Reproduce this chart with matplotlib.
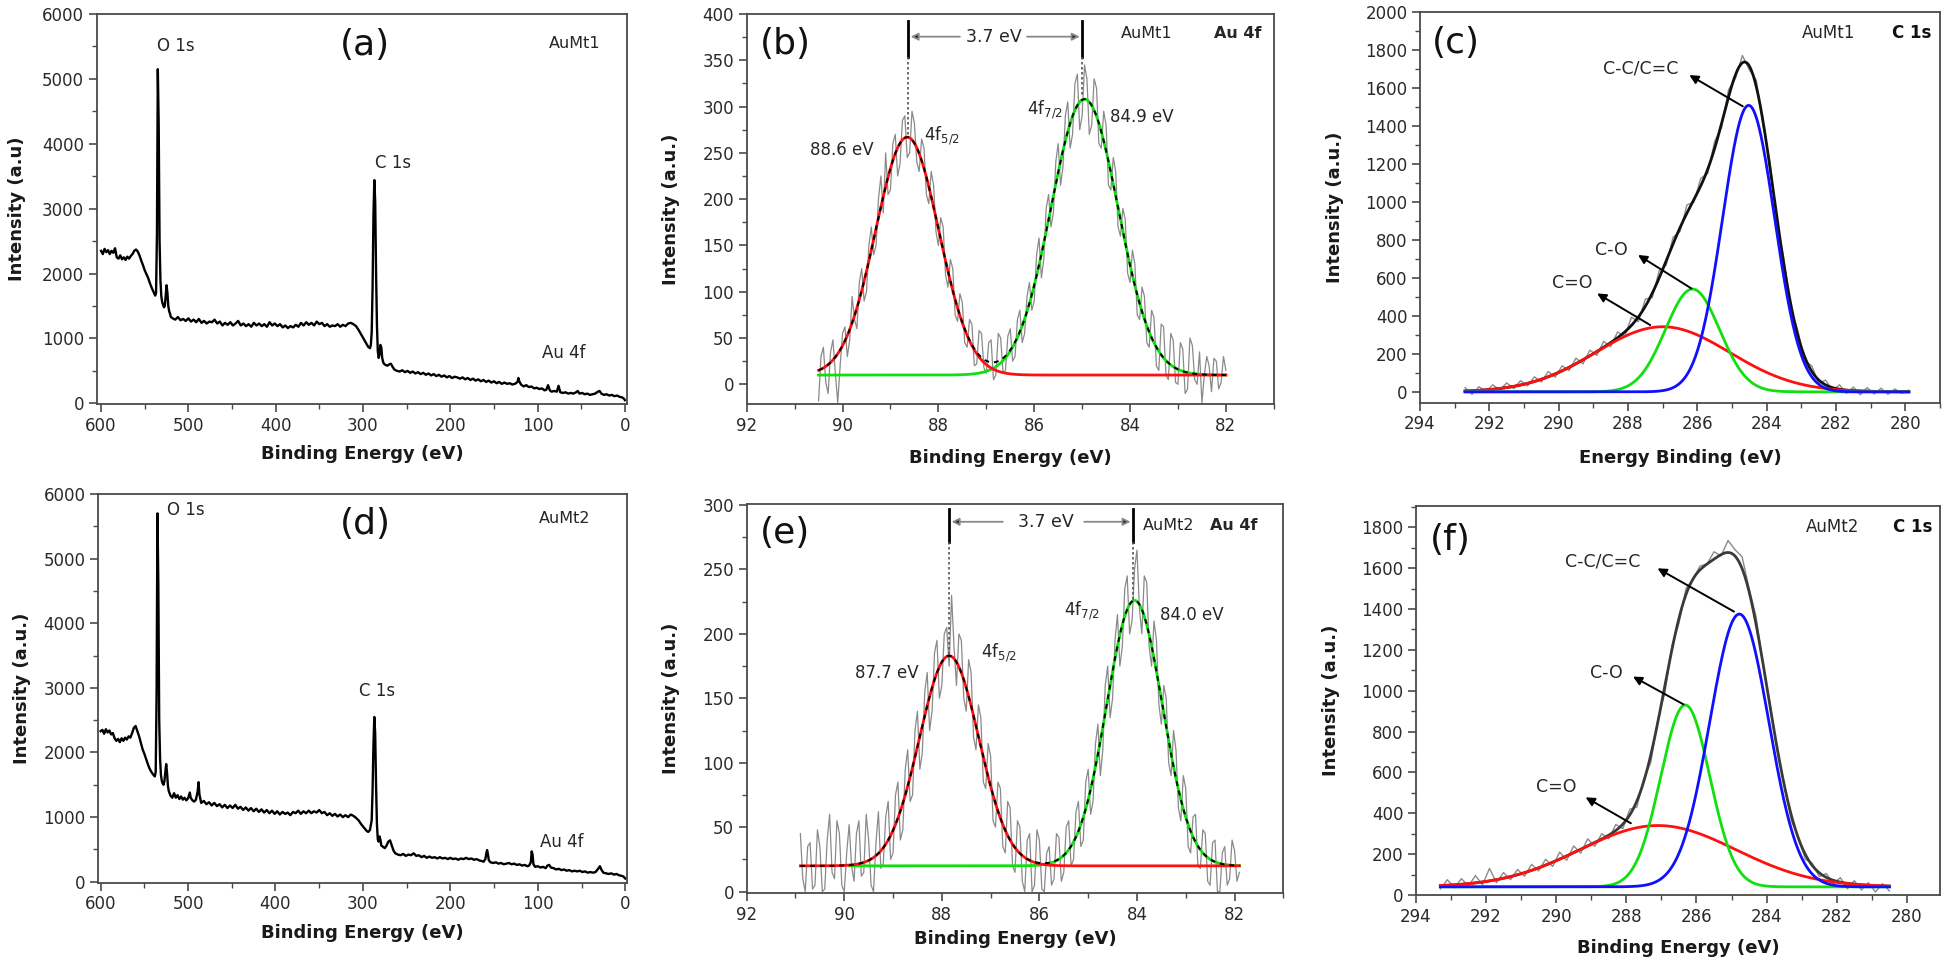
import numpy as np
import matplotlib
matplotlib.use('Agg')
import matplotlib.pyplot as plt
from matplotlib.ticker import MultipleLocator

plt.rcParams['font.family'] = ['DejaVu Sans']
plt.rcParams['mathtext.fontset'] = 'dejavusans'

W, H = 1946, 967

# ------------------------------------------------------------------ data
# (a) survey AuMt1
a_energy = [600, 598, 596, 594, 592, 590, 588, 586, 584, 582, 580, 578, 576, 574, 572, 570, 568, 566, 564, 562,
            560, 558, 556, 554, 552, 550, 548, 546, 544, 542, 540, 538, 537, 536, 535, 534, 533, 532, 531, 530,
            529, 528, 527, 526, 525, 524, 523, 522, 521, 520,
            518, 515, 512, 509, 506, 503, 500, 497, 494, 491, 488, 485, 482, 479, 476, 473, 470, 467, 464, 461,
            458, 455, 452, 449, 446, 443, 440, 437, 434, 431, 428, 425, 422, 419, 416, 413, 410, 407, 404, 401,
            398, 395, 392, 389, 386, 383, 380, 377, 374, 371, 368, 365, 362, 359, 356, 353, 350, 347, 344, 341,
            338, 335, 332, 329, 326, 323, 320, 317, 314, 311, 308, 305, 302, 299, 296, 294, 292, 291, 290, 289,
            288, 287, 286, 285, 284, 283, 282, 281, 280, 279, 278, 277, 276, 274, 272, 270, 268, 266, 264, 261,
            258, 255, 252, 249, 246, 243, 240, 237, 234, 231, 228, 225, 222, 219, 216, 213, 210, 207, 204, 201,
            198, 195, 192, 189, 186, 183, 180, 177, 174, 171, 168, 165, 162, 159, 156, 153, 150, 147, 144, 141,
            138, 135, 132, 129, 126, 123, 122, 121, 119, 116, 113, 110, 107, 104, 101, 98, 95, 92, 90, 88,
            86, 84, 81, 78, 76, 74, 71, 68, 65, 62, 59, 56, 54, 52, 49, 46, 43, 40, 37, 34,
            31, 29, 27, 24, 21, 18, 15, 12, 9, 6, 3, 1, 0]
a_counts = [2350, 2300, 2380, 2330, 2360, 2300, 2350, 2320, 2390, 2250, 2230, 2280, 2220, 2250, 2210, 2260, 2230, 2270, 2300, 2350,
            2370, 2340, 2280, 2200, 2130, 2050, 1990, 1930, 1850, 1780, 1720, 1660, 1700, 2600, 5150, 4300, 2500, 1900, 1650, 1560,
            1520, 1480, 1500, 1650, 1820, 1700, 1500, 1420, 1380, 1330,
            1310, 1290, 1330, 1280, 1300, 1270, 1310, 1260, 1290, 1250, 1300, 1240, 1270, 1230, 1260, 1250, 1290, 1230, 1260, 1200,
            1240, 1210, 1250, 1200, 1230, 1270, 1200, 1230, 1190, 1220, 1180, 1240, 1200, 1230, 1190, 1220, 1180, 1250, 1200, 1230,
            1190, 1220, 1170, 1200, 1160, 1190, 1170, 1210, 1180, 1240, 1200, 1250, 1210, 1240, 1200, 1260, 1220, 1240, 1190, 1220,
            1180, 1200, 1190, 1220, 1180, 1210, 1190, 1230, 1240, 1220, 1190, 1130, 1060, 990, 920, 870, 850, 900, 1100, 1800,
            2900, 3440, 3100, 2000, 1200, 800, 700, 760, 900, 860, 700, 640, 610, 590, 580, 600, 610, 560, 520, 500,
            490, 510, 480, 500, 470, 490, 460, 480, 450, 470, 440, 460, 430, 450, 420, 440, 410, 430, 400, 420,
            390, 410, 400, 380, 400, 370, 390, 360, 380, 350, 370, 340, 360, 330, 350, 320, 340, 310, 330, 300,
            320, 300, 310, 290, 300, 330, 390, 340, 290, 260, 280, 250, 260, 230, 240, 220, 230, 200, 210, 280,
            200, 180, 190, 180, 270, 170, 160, 170, 150, 160, 150, 170, 190, 150, 160, 140, 150, 130, 140, 150,
            180, 190, 150, 130, 140, 120, 130, 110, 120, 100, 90, 70, 50]

# (d) survey AuMt2
d_energy = [600, 598, 596, 594, 592, 590, 588, 586, 584, 582, 580, 578, 576, 574, 572, 570, 568, 566, 564, 562,
            560, 558, 556, 554, 552, 550, 548, 546, 544, 542, 540, 538, 537, 536, 535, 534, 533, 532, 531, 530,
            529, 528, 527, 526, 525, 524, 523, 522, 520, 518, 516, 514, 512, 510, 508, 506, 504, 502, 500, 498,
            497, 495, 493, 491, 489, 488, 487, 485, 482, 479, 476, 473, 470, 467, 464, 461, 458, 455, 452, 449,
            446, 443, 440, 437, 434, 431, 428, 425, 422, 419, 416, 413, 410, 407, 404, 401, 398, 395, 392, 389,
            386, 383, 380, 377, 374, 371, 368, 365, 362, 359, 356, 353, 350, 347, 344, 341, 338, 335, 332, 329,
            326, 323, 320, 317, 314, 311, 308, 305, 302, 299, 296, 294, 292, 290, 289, 288, 287, 286, 285, 284,
            283, 282, 281, 280, 279, 277, 275, 273, 271, 269, 267, 265, 263, 260, 257, 254, 251, 248, 245, 242,
            239, 236, 233, 230, 227, 224, 221, 218, 215, 212, 209, 206, 203, 200, 197, 194, 191, 188, 185, 182,
            179, 176, 173, 170, 167, 164, 162, 160, 159, 158, 157, 156, 154, 151, 148, 145, 142, 139, 136, 133,
            130, 127, 124, 121, 118, 115, 112, 110, 108, 107, 106, 105, 103, 100, 97, 94, 91, 89, 87, 85,
            82, 79, 76, 73, 70, 67, 64, 61, 58, 55, 52, 49, 46, 43, 40, 37, 34, 31, 29, 27,
            25, 22, 19, 16, 13, 10, 7, 4, 2, 0]
d_counts = [2330, 2350, 2290, 2360, 2310, 2340, 2280, 2300, 2220, 2180, 2210, 2160, 2220, 2180, 2230, 2200, 2250, 2230, 2300, 2380,
            2410, 2330, 2250, 2150, 2050, 1980, 1900, 1820, 1750, 1700, 1660, 1630, 1700, 2900, 5700, 4600, 2500, 1900, 1650, 1560,
            1520, 1500, 1560, 1700, 1820, 1680, 1480, 1400, 1330, 1300, 1370, 1300, 1340, 1280, 1320, 1270, 1300, 1260, 1290, 1380,
            1300, 1260, 1240, 1270, 1400, 1540, 1350, 1220, 1250, 1200, 1230, 1180, 1220, 1170, 1200, 1150, 1190, 1140, 1180, 1140,
            1190, 1130, 1160, 1110, 1150, 1100, 1140, 1090, 1130, 1080, 1120, 1070, 1110, 1060, 1100, 1050, 1090, 1040, 1080, 1050,
            1070, 1030, 1080, 1060, 1100, 1050, 1090, 1060, 1100, 1060, 1090, 1070, 1110, 1060, 1080, 1030, 1060, 1020, 1050, 1010,
            1040, 1000, 1030, 1000, 1040, 1020, 990, 950, 890, 840, 790, 770, 800, 950, 1400, 2100, 2550, 2300, 1500, 900,
            650, 620, 700, 650, 560, 540, 520, 560, 620, 640, 560, 480, 440, 420, 410, 430, 400, 420, 410, 440,
            400, 410, 380, 400, 370, 390, 370, 380, 360, 380, 360, 370, 350, 370, 350, 360, 340, 360, 350, 370,
            350, 360, 340, 350, 330, 320, 310, 350, 430, 490, 420, 330, 300, 290, 300, 280, 290, 270, 280, 290,
            270, 280, 260, 270, 250, 260, 240, 250, 300, 470, 420, 270, 230, 240, 220, 230, 210, 250, 260, 220,
            210, 190, 200, 180, 190, 170, 180, 160, 170, 160, 170, 150, 160, 140, 150, 140, 150, 200, 240, 180,
            140, 130, 120, 130, 110, 120, 100, 90, 80, 50]

# (b) Au 4f AuMt1: raw spectrum 90.50 -> 82.00 eV, step 0.05
b_start, b_step = 90.5, 0.05
b_counts = [-18, 30, 40, 2, -10, 35, 48, 12, -20, 20,
            55, 62, 30, 48, 95, 70, 60, 110, 125, 90,
            100, 150, 170, 140, 150, 200, 225, 185, 250, 205,
            210, 260, 270, 225, 238, 285, 290, 245, 250, 295,
            282, 240, 230, 265, 255, 205, 195, 230, 215, 165,
            150, 180, 170, 118, 105, 135, 125, 75, 68, 98,
            88, 45, 40, 70, 65, 20, 22, 58, 55, 18,
            12, 45, 48, 5, 10, 55, 50, 12, 15, 52,
            60, 25, 30, 70, 80, 45, 55, 95, 110, 80,
            90, 140, 158, 115, 135, 190, 205, 170, 185, 240,
            260, 215, 235, 290, 305, 255, 270, 325, 335, 275,
            290, 345, 330, 270, 280, 330, 320, 260, 255, 295,
            280, 215, 210, 245, 230, 170, 160, 190, 178, 120,
            110, 145, 130, 75, 70, 105, 95, 45, 40, 80,
            72, 20, 15, 65, 62, 10, 5, 55, 48, 2,
            0, 45, 38, -10, -5, 50, 42, 5, 0, 35,
            -20, 10, 30, 20, -8, 28, 25, -5, 2, 30,
            15]
b_peak_centers = [88.65, 84.95]      # 4f5/2 (red), 4f7/2 (green)
b_peak_heights = [257, 298]
b_peak_sigmas = [0.66, 0.70]
b_baseline = 10
b_markers = [88.63, 85.0]

# (e) Au 4f AuMt2: raw spectrum 90.90 -> 81.90 eV, step 0.05
e_start, e_step = 90.9, 0.05
e_counts = [45, 10, 0, 35, 38, 2, 5, 48, 35, 0,
            2, 40, 60, 15, 10, 55, 45, 5, 0, 30,
            52, 20, 8, 45, 55, 12, 15, 60, 40, 5,
            0, 38, 62, 18, 22, 58, 70, 25, 30, 75,
            85, 40, 48, 95, 110, 70, 75, 125, 140, 95,
            108, 155, 170, 125, 140, 185, 195, 150, 160, 200,
            205, 175, 230, 190, 160, 200, 195, 150, 140, 180,
            170, 120, 110, 145, 135, 85, 80, 115, 105, 55,
            50, 85, 80, 35, 30, 70, 65, 20, 15, 55,
            50, 8, 0, 40, 45, 0, 5, 48, 40, 2,
            0, 30, 35, 5, 10, 45, 42, 8, 15, 50,
            55, 20, 25, 62, 70, 35, 40, 85, 95, 60,
            70, 115, 130, 90, 110, 160, 175, 135, 150, 195,
            215, 175, 190, 235, 245, 200, 210, 250, 265, 220,
            200, 245, 240, 190, 175, 210, 195, 145, 130, 160,
            150, 100, 90, 125, 110, 65, 55, 90, 80, 35,
            30, 58, 60, 20, 18, 48, 45, 8, 5, 38,
            40, 0, 0, 30, 35, 5, 10, 40, 32, 8,
            15]
e_peak_centers = [87.85, 84.05]
e_peak_heights = [163, 206]
e_peak_sigmas = [0.61, 0.57]
e_baseline = 20
e_markers = [87.85, 84.08]

# (c) C 1s AuMt1: raw spectrum 292.7 -> 279.9 eV, step 0.2
c_start, c_step = 292.7, 0.2
c_counts = [25, -10, 30, 5, 40, 12, 50, 20, 62, 35,
            82, 55, 110, 80, 140, 115, 180, 150, 222, 195,
            268, 240, 318, 292, 395, 372, 490, 498, 640, 668,
            815, 845, 985, 1000, 1125, 1150, 1320, 1392, 1590, 1650,
            1770, 1695, 1640, 1400, 1205, 895, 700, 440, 325, 165,
            140, 48, 65, 10, 40, -5, 28, -12, 25, -8,
            22, -10, 18, -5, 12]
c_components = ['C=O', 'C-O', 'C-C/C=C']
c_centers = [287.0, 286.14, 284.52]
c_heights = [342, 540, 1505]
c_sigmas = [1.93, 0.78, 0.75]
c_baseline = 3

# (f) C 1s AuMt2: raw spectrum 293.3 -> 280.5 eV, step 0.2
f_start, f_step = 293.3, 0.2
f_counts = [30, 75, 35, 80, 45, 95, 50, 130, 60, 110,
            75, 125, 92, 150, 118, 175, 140, 210, 170, 240,
            205, 275, 238, 300, 275, 345, 325, 420, 430, 570,
            650, 860, 990, 1220, 1330, 1500, 1545, 1610, 1620, 1680,
            1660, 1735, 1690, 1655, 1500, 1360, 1120, 935, 700, 545,
            365, 285, 175, 155, 90, 105, 55, 85, 30, 70,
            25, 60, 15, 55, 20]
f_components = ['C=O', 'C-O', 'C-C/C=C']
f_centers = [287.1, 286.32, 284.78]
f_heights = [300, 890, 1335]
f_sigmas = [2.22, 0.70, 0.84]
f_baseline = 40

COMP_COLORS = ['#ff1010', '#10e010', '#1010ff']
RAW_GRAY = '#8a8a8a'
TXT = '#262626'


def grid(start, step, n):
    return start - step * np.arange(n)


def gauss(x, c, h, s):
    return h * np.exp(-(x - c) ** 2 / (2 * s ** 2))


def make_axes(left, top, right, bottom):
    ax = plt.gcf().add_axes([left / W, 1 - bottom / H, (right - left) / W, (bottom - top) / H])
    for sp in ax.spines.values():
        sp.set_color('#4a4a4a')
        sp.set_linewidth(1.3)
    ax.tick_params(which='both', direction='out', top=False, right=False,
                   color='#4a4a4a', labelcolor='#2a2a2a', labelsize=12)
    ax.tick_params(which='major', length=6, width=1.2, pad=3)
    ax.tick_params(which='minor', length=3.5, width=1.0)
    return ax


def set_labels(ax, xlabel, ylabel, x_off_px, y_off_px, width_px, height_px):
    ax.set_xlabel(xlabel, fontsize=13, fontweight='bold', color='#1a1a1a')
    ax.set_ylabel(ylabel, fontsize=13, fontweight='bold', color='#1a1a1a')
    ax.yaxis.set_label_coords(y_off_px / width_px, 0.5)
    ax.xaxis.set_label_coords(0.5, x_off_px / height_px)


fig = plt.figure(figsize=(W / 100, H / 100), dpi=100)
fig.patch.set_facecolor('white')

# ------------------------------------------------------------------ (a)
ax = make_axes(96.7, 14, 627, 404.3)
ax.plot(a_energy, a_counts, color='black', lw=1.7)
ax.set_xlim(605, -2.4)
ax.set_ylim(-15, 6000)
ax.xaxis.set_major_locator(MultipleLocator(100))
ax.xaxis.set_minor_locator(MultipleLocator(50))
ax.yaxis.set_major_locator(MultipleLocator(1000))
ax.yaxis.set_minor_locator(MultipleLocator(500))
ax.text(514.6, 5511, 'O 1s', fontsize=12, color=TXT, ha='center', va='center')
ax.text(265.9, 3698, 'C 1s', fontsize=12, color=TXT, ha='center', va='center')
ax.text(70.2, 770, 'Au 4f', fontsize=12, color=TXT, ha='center', va='center')
ax.text(57.3, 5547, 'AuMt1', fontsize=11.5, color=TXT, ha='center', va='center')
ax.text(298.3, 5522, '(a)', fontsize=26, color='#111111', ha='center', va='center')
set_labels(ax, 'Binding Energy (eV)', 'Intensity (a.u)', -41, -71, 530.3, 390.3)

# ------------------------------------------------------------------ (d)
ax = make_axes(98, 494, 627, 882.7)
ax.plot(d_energy, d_counts, color='black', lw=1.7)
ax.set_xlim(603, -2)
ax.set_ylim(-15, 6000)
ax.xaxis.set_major_locator(MultipleLocator(100))
ax.xaxis.set_minor_locator(MultipleLocator(50))
ax.yaxis.set_major_locator(MultipleLocator(1000))
ax.yaxis.set_minor_locator(MultipleLocator(500))
ax.text(503.1, 5752, 'O 1s', fontsize=12, color=TXT, ha='center', va='center')
ax.text(283.5, 2946, 'C 1s', fontsize=12, color=TXT, ha='center', va='center')
ax.text(73, 620, 'Au 4f', fontsize=12, color=TXT, ha='center', va='center')
ax.text(69.2, 5617, 'AuMt2', fontsize=11.5, color=TXT, ha='center', va='center')
ax.text(297.4, 5530, '(d)', fontsize=26, color='#111111', ha='center', va='center')
set_labels(ax, 'Binding Energy (eV)', 'Intensity (a.u.)', -41, -67, 529, 388.7)


# ------------------------------------------------------------------ Au 4f panels
def au4f_panel(box, start, step, counts, centers, heights, sigmas, base, markers,
               ylim, green_from, letter, texts, arrow_y, mark_top, mark_bot,
               gap_text_x, arrow_tails, xoff, yoff):
    ax = make_axes(*box)
    x = grid(start, step, len(counts))
    ax.plot(x, counts, color=RAW_GRAY, lw=0.9, zorder=1)
    xf = np.linspace(x[0], x[-1], 700)
    red = base + gauss(xf, centers[0], heights[0], sigmas[0])
    green = base + gauss(xf, centers[1], heights[1], sigmas[1])
    env = base + gauss(xf, centers[0], heights[0], sigmas[0]) + gauss(xf, centers[1], heights[1], sigmas[1])
    m = xf <= green_from
    ax.plot(xf[m], green[m], color=COMP_COLORS[1], lw=2.0, zorder=2)
    ax.plot(xf, red, color=COMP_COLORS[0], lw=2.0, zorder=3)
    ax.plot(xf, env, color='black', lw=1.4, ls=(0, (2.5, 2.5)), zorder=4)
    ax.set_xlim(92, 81.0)
    ax.set_ylim(*ylim)
    ax.xaxis.set_major_locator(MultipleLocator(2))
    ax.xaxis.set_minor_locator(MultipleLocator(1))
    ax.yaxis.set_major_locator(MultipleLocator(50))
    ax.yaxis.set_minor_locator(MultipleLocator(25))
    for mx, pk in zip(markers, mark_bot):
        ax.plot([mx, mx], [mark_top[0], mark_top[1]], color='black', lw=2.0, zorder=5)
        ax.plot([mx, mx], [mark_top[1], pk], color='#555555', lw=1.2, ls=(0, (1.5, 1.5)), zorder=5)
    ax.text(gap_text_x, arrow_y, '3.7 eV', fontsize=12.5, color=TXT, ha='center', va='center')
    for (tail, head) in arrow_tails:
        ax.annotate('', xy=(head, arrow_y), xytext=(tail, arrow_y),
                    arrowprops=dict(arrowstyle='-|>', fc='#222222', ec='#8a8a8a', lw=1.3,
                                    mutation_scale=11, shrinkA=0, shrinkB=0))
    for (tx, ty, s, ha, va, kw) in texts:
        ax.text(tx, ty, s, ha=ha, va=va, color=TXT, **kw)
    ax.text(letter[1], letter[2], letter[0], fontsize=26, color='#111111', ha='center', va='center')
    set_labels(ax, 'Binding Energy (eV)', 'Intensity (a.u.)', xoff, yoff,
               box[2] - box[0], box[3] - box[1])
    return ax


au4f_panel((746.7, 14, 1273.8, 404.3), b_start, b_step, b_counts,
           b_peak_centers, b_peak_heights, b_peak_sigmas, b_baseline, b_markers,
           (-21.6, 400), 90.5, ('(b)', 91.19, 368),
           [(90.02, 253, '88.6 eV', 'center', 'center', dict(fontsize=12)),
            (88.3, 263, r'4f$_{5/2}$', 'left', 'baseline', dict(fontsize=12)),
            (86.15, 291, r'4f$_{7/2}$', 'left', 'baseline', dict(fontsize=12)),
            (84.42, 289, '84.9 eV', 'left', 'center', dict(fontsize=12)),
            (84.2, 379, 'AuMt1', 'left', 'center', dict(fontsize=11.5)),
            (82.24, 379, 'Au 4f', 'left', 'center', dict(fontsize=11.5, fontweight='bold'))],
           375.5, (392, 354), (268, 310), 86.85,
           [(87.55, 88.58), (86.15, 85.05)], -45, -67)

au4f_panel((746.7, 504, 1283.3, 893.3), e_start, e_step, e_counts,
           e_peak_centers, e_peak_heights, e_peak_sigmas, e_baseline, e_markers,
           (-1.3, 300.8), 89.9, ('(e)', 91.21, 278),
           [(89.12, 170, '87.7 eV', 'center', 'center', dict(fontsize=12)),
            (87.2, 182, r'4f$_{5/2}$', 'left', 'baseline', dict(fontsize=12)),
            (85.5, 214, r'4f$_{7/2}$', 'left', 'baseline', dict(fontsize=12)),
            (83.53, 214.7, '84.0 eV', 'left', 'center', dict(fontsize=12)),
            (83.88, 284.5, 'AuMt2', 'left', 'center', dict(fontsize=11.5)),
            (82.51, 284.5, 'Au 4f', 'left', 'center', dict(fontsize=11.5, fontweight='bold'))],
           287, (297, 271.5), (183, 226), 85.86,
           [(86.75, 87.80), (85.08, 84.13)], -37, -67)


# ------------------------------------------------------------------ C 1s panels
def c1s_panel(box, start, step, counts, centers, heights, sigmas, base, ylim, xlim,
              env_color, letter, sample, sample_xy, labels, xlabel, xoff, yoff):
    ax = make_axes(*box)
    x = grid(start, step, len(counts))
    ax.plot(x, counts, color=RAW_GRAY, lw=1.0, zorder=1)
    xf = np.linspace(x[0], x[-1], 900)
    comps = [gauss(xf, c, h, s) for c, h, s in zip(centers, heights, sigmas)]
    env = base + sum(comps)
    ax.plot(xf, env, color=env_color, lw=2.0, zorder=2)
    for comp, col in zip(comps, COMP_COLORS):
        ax.plot(xf, base + comp, color=col, lw=2.0, zorder=3)
    ax.set_xlim(*xlim)
    ax.set_ylim(*ylim)
    ax.xaxis.set_major_locator(MultipleLocator(2))
    ax.xaxis.set_minor_locator(MultipleLocator(1))
    ax.yaxis.set_major_locator(MultipleLocator(200))
    ax.yaxis.set_minor_locator(MultipleLocator(100))
    for (name, tx, ty, head, tail) in labels:
        ax.text(tx, ty, name, fontsize=12.5, color=TXT, ha='left', va='center')
        ax.annotate('', xy=head, xytext=tail,
                    arrowprops=dict(arrowstyle='-|>', color='black', lw=1.4, mutation_scale=13,
                                    shrinkA=0, shrinkB=0))
    ax.text(sample_xy[0], sample_xy[1], sample, fontsize=12, color=TXT, ha='left', va='center')
    ax.text(sample_xy[2], sample_xy[1], 'C 1s', fontsize=12, fontweight='bold', color='#111111',
            ha='left', va='center')
    ax.text(letter[1], letter[2], letter[0], fontsize=26, color='#111111', ha='center', va='center')
    set_labels(ax, xlabel, 'Intensity (a.u.)', xoff, yoff, box[2] - box[0], box[3] - box[1])
    return ax


c1s_panel((1420, 11.7, 1940, 402.7), c_start, c_step, c_counts,
          c_centers, c_heights, c_sigmas, c_baseline, (-54, 2000), (294, 279.0), '#111111',
          ('(c)', 292.97, 1834), 'AuMt1', (282.98, 1886, 280.38),
          [('C=O', 290.19, 576, (288.89, 520), (287.36, 354)),
           ('C-O', 288.95, 748, (287.71, 722), (286.17, 546)),
           ('C-C/C=C', 288.71, 1702, (286.23, 1667), (284.69, 1503))],
          'Energy Binding (eV)', -46, -76.5)

c1s_panel((1415.8, 506, 1940, 895), f_start, f_step, f_counts,
          f_centers, f_heights, f_sigmas, f_baseline, (0, 1904), (294, 279.06), '#3a3a3a',
          ('(f)', 293.01, 1738), 'AuMt2', (282.88, 1803, 280.41),
          [('C=O', 290.57, 527, (289.16, 478), (287.87, 351)),
           ('C-O', 289.04, 1087, (287.81, 1069), (286.37, 933)),
           ('C-C/C=C', 289.75, 1632, (287.11, 1599), (284.93, 1387))],
          'Binding Energy (eV)', -44, -75.8)

fig.savefig('out.png', dpi=100, facecolor='white')
